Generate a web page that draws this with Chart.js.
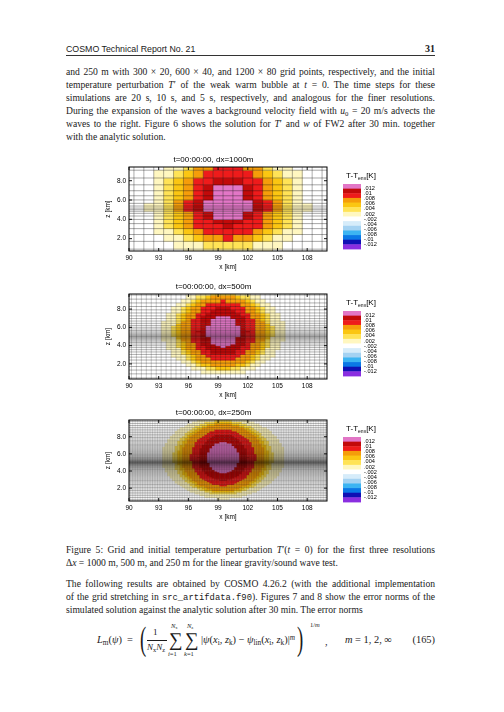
<!DOCTYPE html>
<html>
<head>
<meta charset="utf-8">
<script src="https://cdn.jsdelivr.net/npm/chart.js@4.4.1/dist/chart.umd.min.js"></script>
<style>
html, body { margin: 0; padding: 0; background: #fff; }
body { width: 504px; height: 712px; position: relative; overflow: hidden; color: #1a1a1a; font-family: 'Liberation Serif', serif; }
.ln { position: absolute; left: 66px; width: 369px; font-size: 9.6px; line-height: 12px; text-align: justify; text-align-last: justify; }
.ln.end { text-align-last: left; }
.mono { font-family: 'Liberation Mono', monospace; font-size: 0.92em; }
.sb { font-size: 0.7em; position: relative; top: 0.25em; }
.sp { font-size: 0.7em; position: relative; top: -0.45em; }
.eq { position: absolute; font-size: 10.4px; line-height: 10px; white-space: nowrap; }
.tiny { position: absolute; font-size: 6.5px; line-height: 7px; white-space: nowrap; }
.par { position: absolute; font-size: 34px; line-height: 34px; transform: scaleX(0.55); transform-origin: left center; }
</style>
</head>
<body>

<div style="position:absolute;left:66px;top:43px;font:8.8px/12px 'Liberation Sans',sans-serif;">COSMO Technical Report No. 21</div>
<div style="position:absolute;right:69px;top:43px;font:bold 10px/12px 'Liberation Serif',serif;">31</div>
<div style="position:absolute;left:66px;top:55px;width:369px;height:0.7px;background:#333;"></div>

<div class="ln" style="top:66px">and 250 m with 300 × 20, 600 × 40, and 1200 × 80 grid points, respectively, and the initial</div>
<div class="ln" style="top:79px">temperature perturbation <i>T</i>′ of the weak warm bubble at <i>t</i> = 0. The time steps for these</div>
<div class="ln" style="top:92px">simulations are 20 s, 10 s, and 5 s, respectively, and analogous for the finer resolutions.</div>
<div class="ln" style="top:105px">During the expansion of the waves a background velocity field with <i>u</i><span class="sb">0</span> = 20 m/s advects the</div>
<div class="ln" style="top:118px">waves to the right. Figure 6 shows the solution for <i>T</i>′ and <i>w</i> of FW2 after 30 min. together</div>
<div class="ln end" style="top:131px">with the analytic solution.</div>

<div class="ln" style="top:544px">Figure 5: Grid and initial temperature perturbation <i>T</i>′(<i>t</i> = 0) for the first three resolutions</div>
<div class="ln end" style="top:557px">Δ<i>x</i> = 1000 m, 500 m, and 250 m for the linear gravity/sound wave test.</div>

<div class="ln" style="top:578px">The following results are obtained by COSMO 4.26.2 (with the additional implementation</div>
<div class="ln" style="top:591px">of the grid stretching in <span class="mono">src_artifdata.f90</span>). Figures 7 and 8 show the error norms of the</div>
<div class="ln end" style="top:604px">simulated solution against the analytic solution after 30 min. The error norms</div>

<div class="eq" style="left:97px;top:635px"><i>L</i><span class="sb">m</span>(<i>ψ</i>)&nbsp;&nbsp;=</div>
<div class="par" style="left:140px;top:622px;">(</div>
<div class="eq" style="left:153px;top:627px;font-size:9px;">1</div>
<div style="position:absolute;left:147px;top:639.5px;width:20px;height:0.7px;background:#1a1a1a;"></div>
<div class="eq" style="left:147px;top:642px;font-size:9px;"><i>N</i><span class="sb">x</span><i>N</i><span class="sb">z</span></div>
<div class="eq" style="left:169px;top:630px;font-size:19px;line-height:19px;">∑</div>
<div class="tiny" style="left:171px;top:622px;"><i>N</i><span class="sb">x</span></div>
<div class="tiny" style="left:168px;top:650px;"><i>i</i>=1</div>
<div class="eq" style="left:185px;top:630px;font-size:19px;line-height:19px;">∑</div>
<div class="tiny" style="left:187px;top:622px;"><i>N</i><span class="sb">z</span></div>
<div class="tiny" style="left:184px;top:650px;"><i>k</i>=1</div>
<div class="eq" style="left:201px;top:635px">|<i>ψ</i>(<i>x</i><span class="sb">i</span>, <i>z</i><span class="sb">k</span>) − <i>ψ</i><span class="sb">lin</span>(<i>x</i><span class="sb">i</span>, <i>z</i><span class="sb">k</span>)|<span class="sp"><i>m</i></span></div>
<div class="par" style="left:297px;top:622px;">)</div>
<div class="tiny" style="left:310px;top:621px;">1/<i>m</i></div>
<div class="eq" style="left:325px;top:637px">,</div>
<div class="eq" style="left:345px;top:635px"><i>m</i> = 1, 2, ∞</div>
<div class="eq" style="right:69px;top:635px">(165)</div>

<script>
// x axis and colour scale
const xRangeKm = [90, 110];
const xTicks = [90, 93, 96, 99, 102, 105, 108];
const zTicks = [2, 4, 6, 8];
const titles = ['t=00:00:00, dx=1000m', 't=00:00:00, dx=500m', 't=00:00:00, dx=250m'];
const dxKm = [1.0, 0.5, 0.25];
const bubbleCenterKm = [100, 99.5, 99.5];
const zRange1000 = [0.72, 9.42];
const zRange500 = [0.35, 9.65];
const zRange250 = [0.5, 9.95];

// colour of each band: 0 = outside, 7 = warmest
const levelColors = ['#ffffff', '#fff7c0', '#ffe356', '#fbc612', '#f59d0a', '#ee1b1b', '#c20a0a', '#e276c6'];
const legendColors = ['#e276c6', '#c20a0a', '#ee1b1b', '#f59d0a', '#fbc612', '#ffe356', '#fff7c0',
  '#ffffff', '#d6ecfa', '#a4d2f2', '#3cb4f2', '#0a78e6', '#1010b4', '#8a2ee0'];
const legendLabels = ['.012', '.01', '.008', '.006', '.004', '.002', '-.002', '-.004', '-.006', '-.008', '-.01', '-.012'];

// stretched vertical cell edges (km)
const zEdges1000 = [0, 0.911, 1.719, 2.426, 3.038, 3.558, 3.991, 4.344, 4.622, 4.836, 5.0,
  5.164, 5.378, 5.656, 6.009, 6.442, 6.962, 7.574, 8.281, 9.089, 10.0];
const zEdges500 = [0, 0.469, 0.911, 1.328, 1.719, 2.085, 2.426, 2.744, 3.038, 3.309, 3.558,
  3.785, 3.991, 4.177, 4.344, 4.492, 4.622, 4.737, 4.836, 4.923, 5.0,
  5.077, 5.164, 5.263, 5.378, 5.508, 5.656, 5.823, 6.009, 6.215, 6.442,
  6.691, 6.962, 7.256, 7.574, 7.915, 8.281, 8.672, 9.089, 9.531, 10.0];
const zEdges250 = [0, 0.238, 0.469, 0.694, 0.911, 1.123, 1.328, 1.527, 1.719, 1.905, 2.085,
  2.259, 2.426, 2.588, 2.744, 2.894, 3.038, 3.176, 3.309, 3.436, 3.558,
  3.674, 3.785, 3.891, 3.991, 4.087, 4.177, 4.263, 4.344, 4.42, 4.492,
  4.559, 4.622, 4.681, 4.737, 4.788, 4.836, 4.881, 4.923, 4.962, 5.0,
  5.038, 5.077, 5.119, 5.164, 5.212, 5.263, 5.319, 5.378, 5.441, 5.508,
  5.58, 5.656, 5.737, 5.823, 5.913, 6.009, 6.109, 6.215, 6.326, 6.442,
  6.564, 6.691, 6.824, 6.962, 7.106, 7.256, 7.412, 7.574, 7.741, 7.915,
  8.095, 8.281, 8.473, 8.672, 8.877, 9.089, 9.306, 9.531, 9.762, 10.0];

// per row (bottom to top): half width in cells of each colour band, band 1 outward first
const bands1000 = [
  [4], [5, 2], [6, 4, 3, 2, 0], [7, 5, 4, 3, 2], [7, 6, 5, 4, 3, 0],
  [7, 6, 5, 4, 3, 1], [7, 6, 5, 4, 3, 2, 1], [7, 6, 5, 4, 3, 2, 1], [7, 6, 5, 4, 3, 2, 1], [8, 6, 5, 5, 4, 3, 2],
  [8, 6, 5, 5, 4, 3, 2], [8, 6, 5, 5, 4, 3, 2], [8, 6, 5, 5, 4, 3, 2], [7, 6, 5, 5, 4, 3, 2], [7, 6, 5, 4, 3, 2, 1],
  [7, 6, 5, 4, 3, 2, 1], [7, 6, 5, 4, 3, 2, 1], [7, 6, 5, 4, 3, 1], [7, 5, 4, 3, 2], [6, 4, 3, 3, 1]
];
const bands500 = [
  [], [], [4], [6, 3, 1], [7, 5, 4, 2],
  [8, 6, 5, 4], [9, 7, 6, 5, 2], [10, 7, 6, 5, 3], [10, 8, 7, 6, 4, 2], [10, 8, 7, 6, 4, 2],
  [11, 8, 8, 7, 5, 3], [11, 9, 8, 7, 5, 3, 0], [11, 9, 8, 7, 5, 4, 1], [11, 9, 8, 7, 5, 4, 2], [11, 9, 8, 7, 6, 4, 2],
  [12, 9, 8, 8, 6, 4, 2], [12, 9, 8, 8, 6, 4, 2], [12, 9, 9, 8, 6, 4, 2], [12, 9, 9, 8, 6, 4, 2], [12, 9, 9, 8, 6, 4, 2],
  [12, 10, 9, 8, 6, 4, 3], [12, 10, 9, 8, 6, 4, 3], [12, 10, 9, 8, 6, 4, 3], [12, 10, 9, 8, 6, 4, 3], [12, 10, 9, 8, 6, 4, 3],
  [12, 10, 9, 8, 6, 5, 3], [12, 10, 9, 8, 6, 4, 3], [12, 10, 9, 8, 6, 4, 3], [12, 10, 9, 8, 6, 4, 3], [12, 9, 9, 8, 6, 4, 2],
  [12, 9, 8, 8, 6, 4, 2], [11, 9, 8, 7, 6, 4, 2], [11, 9, 8, 7, 5, 4, 1], [11, 9, 8, 7, 5, 3], [10, 8, 7, 6, 4, 2],
  [10, 8, 7, 6, 4, 1], [9, 7, 6, 5, 3], [8, 6, 5, 4, 0], [7, 5, 3, 2], [5, 2]
];
const bands250 = [
  [], [], [], [2], [7], [9], [11, 5], [13, 7, 4], [14, 9, 7, 4], [15, 10, 8, 6],
  [16, 12, 10, 7], [17, 13, 11, 9, 1], [18, 13, 11, 10, 4], [19, 14, 12, 10, 5], [19, 15, 13, 11, 6],
  [20, 15, 13, 12, 7, 1], [20, 16, 14, 12, 8, 3], [21, 16, 14, 13, 9, 4], [21, 17, 15, 13, 9, 5], [22, 17, 15, 14, 9, 6],
  [22, 17, 16, 14, 10, 6], [22, 18, 16, 14, 10, 7], [22, 18, 16, 14, 10, 7, 1], [23, 18, 16, 15, 11, 7, 2], [23, 18, 16, 15, 11, 8, 3],
  [23, 18, 17, 15, 11, 8, 3], [23, 19, 17, 15, 11, 8, 4], [23, 19, 17, 15, 11, 8, 4], [23, 19, 17, 15, 12, 8, 4], [24, 19, 17, 16, 12, 9, 4],
  [24, 19, 17, 16, 12, 9, 5], [24, 19, 17, 16, 12, 9, 5], [24, 19, 17, 16, 12, 9, 5], [24, 19, 17, 16, 12, 9, 5], [24, 19, 18, 16, 12, 9, 5],
  [24, 19, 18, 16, 12, 9, 5], [24, 19, 18, 16, 12, 9, 5], [24, 19, 18, 16, 12, 9, 5], [24, 19, 18, 16, 12, 9, 5], [24, 19, 18, 16, 12, 9, 5],
  [24, 20, 18, 16, 12, 9, 6], [24, 20, 18, 16, 12, 9, 6], [24, 20, 18, 16, 12, 9, 6], [24, 20, 18, 16, 12, 9, 6], [24, 20, 18, 16, 12, 9, 6],
  [24, 20, 18, 16, 13, 9, 6], [24, 20, 18, 16, 13, 9, 6], [24, 20, 18, 16, 13, 9, 6], [24, 20, 18, 16, 13, 9, 6], [24, 20, 18, 16, 13, 9, 6],
  [24, 20, 18, 16, 13, 9, 6], [24, 20, 18, 16, 13, 10, 6], [24, 20, 18, 16, 13, 9, 6], [24, 20, 18, 16, 13, 9, 6], [24, 20, 18, 16, 13, 9, 6],
  [24, 20, 18, 16, 13, 9, 6], [24, 20, 18, 16, 12, 9, 6], [24, 20, 18, 16, 12, 9, 6], [24, 19, 18, 16, 12, 9, 5], [24, 19, 18, 16, 12, 9, 5],
  [24, 19, 17, 16, 12, 9, 5], [24, 19, 17, 16, 12, 9, 5], [24, 19, 17, 16, 12, 8, 4], [23, 19, 17, 15, 11, 8, 4], [23, 18, 17, 15, 11, 8, 3],
  [23, 18, 16, 15, 11, 7, 3], [22, 18, 16, 14, 11, 7, 1], [22, 18, 16, 14, 10, 6], [22, 17, 15, 14, 10, 6], [21, 17, 15, 13, 9, 5],
  [21, 16, 14, 13, 8, 4], [20, 15, 14, 12, 7, 3], [19, 15, 13, 11, 6], [19, 14, 12, 10, 5], [18, 13, 11, 9, 3],
  [17, 12, 10, 8], [15, 11, 8, 6], [14, 9, 6, 3], [12, 7, 3], [10, 3]
];

// fit the justified text lines onto one line each
document.querySelectorAll('.ln').forEach(el => {
  let fs = parseFloat(getComputedStyle(el).fontSize);
  while (el.offsetHeight > 18 && fs > 6) {
    fs -= 0.1;
    el.style.fontSize = fs + 'px';
  }
});

Chart.defaults.font.family = "'Liberation Sans', Arial, sans-serif";
Chart.defaults.color = '#000';

const panels = [
  { title: titles[0], dx: dxKm[0], center: bubbleCenterKm[0], zEdges: zEdges1000, bands: bands1000, zRange: zRange1000, top: 147, height: 133 },
  { title: titles[1], dx: dxKm[1], center: bubbleCenterKm[1], zEdges: zEdges500, bands: bands500, zRange: zRange500, top: 274, height: 134 },
  { title: titles[2], dx: dxKm[2], center: bubbleCenterKm[2], zEdges: zEdges250, bands: bands250, zRange: zRange250, top: 400, height: 130 }
];

// grid line look per panel: [vertical width, vertical colour, horizontal width, horizontal colour]
const gridStyles = [
  [0.5, 'rgba(20,20,20,0.7)', 0.5, 'rgba(20,20,20,0.75)'],
  [0.4, 'rgba(20,20,20,0.55)', 0.4, 'rgba(10,10,10,0.8)'],
  [0.3, 'rgba(20,20,20,0.45)', 0.35, 'rgba(0,0,0,0.85)']
];

const cellPlugin = {
  id: 'cells',
  beforeDraw(chart, args, opts) {
    const p = opts.panel;
    const gs = opts.gridStyle;
    const { ctx, chartArea: a } = chart;
    const x = chart.scales.x, y = chart.scales.y;
    const nx = Math.round((xRangeKm[1] - xRangeKm[0]) / p.dx) + 1;
    ctx.save();
    ctx.beginPath();
    ctx.rect(a.left, a.top, a.right - a.left, a.bottom - a.top);
    ctx.clip();
    ctx.fillStyle = '#fff';
    ctx.fillRect(a.left, a.top, a.right - a.left, a.bottom - a.top);
    p.bands.forEach((row, r) => {
      const yTop = y.getPixelForValue(p.zEdges[r + 1]);
      const yBot = y.getPixelForValue(p.zEdges[r]);
      for (let i = 0; i < nx; i++) {
        const xc = xRangeKm[0] + i * p.dx;
        const j = Math.round(Math.abs(xc - p.center) / p.dx);
        const lev = row.filter(m => m >= j).length;
        if (!lev) continue;
        const x0 = x.getPixelForValue(xc - p.dx / 2);
        const x1 = x.getPixelForValue(xc + p.dx / 2);
        ctx.fillStyle = levelColors[lev];
        ctx.fillRect(x0, yTop, x1 - x0 + 0.4, yBot - yTop + 0.4);
      }
    });
    // cell outlines
    ctx.lineWidth = gs[0];
    ctx.strokeStyle = gs[1];
    ctx.beginPath();
    for (let i = 0; i <= nx; i++) {
      const px = x.getPixelForValue(xRangeKm[0] - p.dx / 2 + i * p.dx);
      ctx.moveTo(px, a.top);
      ctx.lineTo(px, a.bottom);
    }
    ctx.stroke();
    ctx.lineWidth = gs[2];
    ctx.strokeStyle = gs[3];
    ctx.beginPath();
    p.zEdges.forEach(z => {
      const py = y.getPixelForValue(z);
      ctx.moveTo(a.left, py);
      ctx.lineTo(a.right, py);
    });
    ctx.stroke();
    ctx.restore();
  },
  afterDraw(chart) {
    const { ctx, chartArea: a } = chart;
    const x = chart.scales.x, y = chart.scales.y;
    ctx.save();
    ctx.strokeStyle = '#000';
    ctx.lineWidth = 1;
    ctx.strokeRect(a.left, a.top, a.right - a.left, a.bottom - a.top);
    ctx.lineWidth = 0.9;
    ctx.beginPath();
    xTicks.forEach(v => {
      const px = x.getPixelForValue(v);
      ctx.moveTo(px, a.bottom); ctx.lineTo(px, a.bottom - 3);
      ctx.moveTo(px, a.top); ctx.lineTo(px, a.top + 3);
    });
    zTicks.forEach(v => {
      const py = y.getPixelForValue(v);
      ctx.moveTo(a.left, py); ctx.lineTo(a.left + 3, py);
      ctx.moveTo(a.right, py); ctx.lineTo(a.right - 3, py);
    });
    ctx.stroke();

    // colour bar
    const bx = a.right + 16, bw = 18, by = a.top + 17, bh = 65;
    const step = bh / legendColors.length;
    legendColors.forEach((c, k) => {
      ctx.fillStyle = c;
      ctx.fillRect(bx, by + k * step, bw, step + 0.4);
    });
    ctx.fillStyle = '#000';
    ctx.font = "5.6px 'Liberation Sans'";
    ctx.textBaseline = 'middle';
    ctx.textAlign = 'left';
    const gap = (bh - 2 * step) / (legendLabels.length - 1);
    legendLabels.forEach((t, k) => ctx.fillText(t, bx + bw + 3, by + step + k * gap));

    // colour bar title T-T_env[K]
    const f1 = "8px 'Liberation Sans'", f2 = "5px 'Liberation Sans'";
    ctx.font = f1;
    const wa = ctx.measureText('T-T').width, wc = ctx.measureText('[K]').width;
    ctx.font = f2;
    const wb = ctx.measureText('env').width;
    let tx = a.right + 34 - (wa + wb + wc) / 2;
    const ty = a.top + 9;
    ctx.font = f1; ctx.fillText('T-T', tx, ty); tx += wa;
    ctx.font = f2; ctx.fillText('env', tx, ty + 2.2); tx += wb;
    ctx.font = f1; ctx.fillText('[K]', tx, ty);
    ctx.restore();
  }
};

panels.forEach((p, idx) => {
  const cv = document.createElement('canvas');
  cv.width = 300;
  cv.height = p.height;
  cv.style.position = 'absolute';
  cv.style.left = '100px';
  cv.style.top = p.top + 'px';
  document.body.appendChild(cv);

  new Chart(cv, {
    type: 'scatter',
    data: { datasets: [] },
    plugins: [cellPlugin],
    options: {
      responsive: false,
      animation: false,
      layout: { padding: { left: 0, right: 73, top: 0, bottom: 0 } },
      plugins: {
        legend: { display: false },
        tooltip: { enabled: false },
        title: { display: true, text: p.title, font: { size: 8, weight: 'normal' }, color: '#000', padding: { top: 8, bottom: 2.4 } },
        cells: { panel: p, gridStyle: gridStyles[idx] }
      },
      scales: {
        x: {
          type: 'linear', min: xRangeKm[0], max: xRangeKm[1],
          grid: { display: false, drawTicks: false },
          border: { display: false },
          ticks: { font: { size: 6.5 }, color: '#000', padding: 3.5, maxRotation: 0, autoSkip: false },
          afterBuildTicks: s => { s.ticks = xTicks.map(v => ({ value: v })); },
          afterFit: s => { s.height = 29; },
          title: { display: true, text: 'x [km]', font: { size: 6.5 }, color: '#000', padding: { top: 0, bottom: 8.6 } }
        },
        y: {
          type: 'linear', min: p.zRange[0], max: p.zRange[1],
          grid: { display: false, drawTicks: false },
          border: { display: false },
          ticks: { font: { size: 6.5 }, color: '#000', padding: 3, callback: v => v.toFixed(1) },
          afterBuildTicks: s => { s.ticks = zTicks.map(v => ({ value: v })); },
          afterFit: s => { s.width = 29; },
          title: { display: true, text: 'z [km]', font: { size: 6.5 }, color: '#000', padding: { top: 4.1, bottom: 0 } }
        }
      }
    }
  });
});
</script>
</body>
</html>
